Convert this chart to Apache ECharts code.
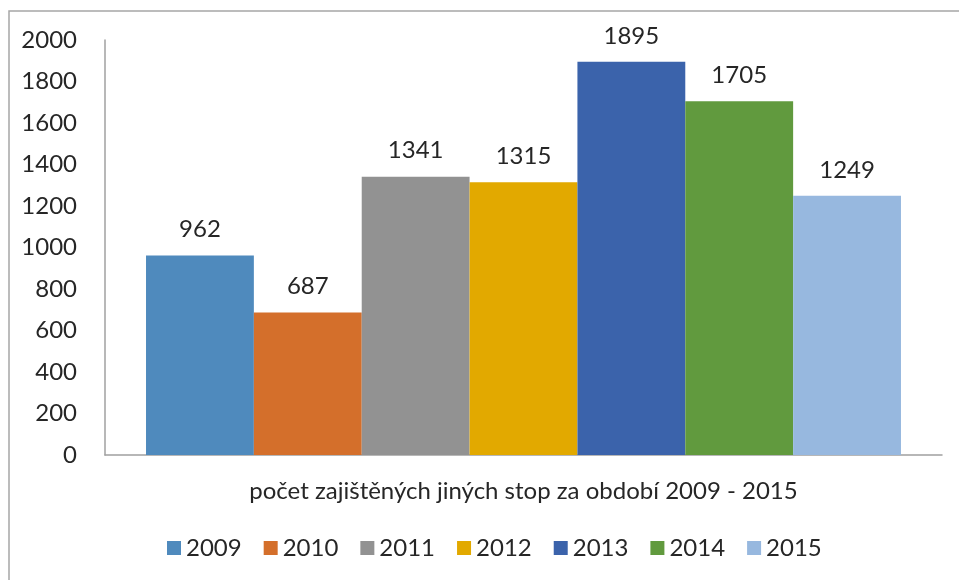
<!DOCTYPE html>
<html>
<head>
<meta charset="utf-8">
<script src="https://cdn.jsdelivr.net/npm/echarts@6/dist/echarts.min.js"></script>
<style>
html,body{margin:0;padding:0;background:#fff;}
#main{width:959px;height:580px;}
</style>
</head>
<body>
<div id="main"></div>
<script>
var years = ['2009', '2010', '2011', '2012', '2013', '2014', '2015'];
var values = [962, 687, 1341, 1315, 1895, 1705, 1249];
var colors = ['#4F8ABD', '#D46F2B', '#929292', '#E2A900', '#3B63AB', '#619A3E', '#97B8DF'];
var categoryName = 'počet zajištěných jiných stop za období 2009 - 2015';
var yTicks = { min: 0, max: 2000, interval: 200 };

var font = 'Lato';
var fs = 24;
var chart = echarts.init(document.getElementById('main'), null, { renderer: 'canvas' });

var series = years.map(function (y, i) {
  return {
    name: y,
    type: 'bar',
    data: [values[i]],
    barGap: '0%',
    barCategoryGap: '9.8%',
    itemStyle: { color: colors[i] },
    label: {
      show: true,
      position: 'top',
      distance: 14,
      fontFamily: font,
      fontSize: fs,
      color: '#262626'
    }
  };
});

chart.setOption({
  animation: false,
  backgroundColor: '#fff',
  textStyle: { fontFamily: font },
  graphic: [{
    type: 'rect',
    shape: { x: 9, y: 11, width: 1000, height: 620 },
    style: { fill: 'none', stroke: '#A6A6A6', lineWidth: 1.5 },
    silent: true
  }],
  grid: { left: 105, right: 17, top: 40, bottom: 125, containLabel: false },
  legend: {
    data: years,
    left: 162,
    top: 531,
    icon: 'rect',
    itemWidth: 14,
    itemHeight: 14,
    itemGap: 22,
    textStyle: { fontFamily: font, fontSize: fs, color: '#262626' }
  },
  xAxis: {
    type: 'category',
    data: [''],
    name: categoryName,
    nameLocation: 'middle',
    nameGap: 24,
    nameTextStyle: { fontFamily: font, fontSize: fs, color: '#262626' },
    axisLine: { show: true, lineStyle: { color: '#A0A0A0', width: 1.5 } },
    axisTick: { show: false },
    axisLabel: { show: false },
    splitLine: { show: false }
  },
  yAxis: {
    type: 'value',
    min: yTicks.min,
    max: yTicks.max,
    interval: yTicks.interval,
    axisLine: { show: true, lineStyle: { color: '#A0A0A0', width: 1.5 } },
    axisTick: { show: false },
    splitLine: { show: false },
    axisLabel: {
      margin: 28,
      fontFamily: font,
      fontSize: fs,
      color: '#262626',
      formatter: function (v) { return String(v); }
    }
  },
  series: series
});
</script>
</body>
</html>
